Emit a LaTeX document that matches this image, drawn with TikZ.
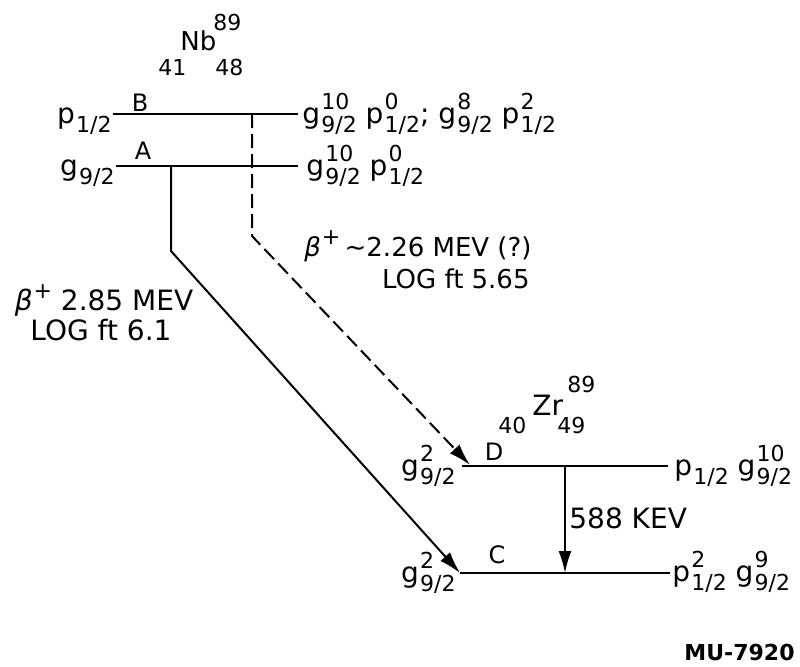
\documentclass[tikz,border=0pt]{standalone}
\usepackage{fontspec}
\setmainfont{DejaVu Sans}
\usetikzlibrary{arrows.meta}

\newcommand\idx{\fontsize{11}{11}\selectfont}
\newcommand\orb[3]{#1\kern0.6pt\rlap{\raisebox{7pt}{\idx #2}}\raisebox{-4.5pt}{\idx #3}}
\newcommand\betaplus{\textit{β}\kern0.5pt\raisebox{6pt}{\idx +}}

\begin{document}
\begin{tikzpicture}[x=0.5pt, y=-0.5pt, >={Latex[length=11pt,width=6.5pt]},
  level/.style={line width=1pt},
  decay/.style={line width=1pt, ->},
  config/.style={inner sep=0pt, font=\fontsize{14}{16}\selectfont},
  small/.style={inner sep=0pt, font=\fontsize{13}{15}\selectfont},
  tag/.style={inner sep=0pt, font=\fontsize{12}{14}\selectfont},
  num/.style={inner sep=0pt, font=\fontsize{11}{13}\selectfont}]
\useasboundingbox (0,0) rectangle (800,666);

% Draw levels
\foreach \n/\xa/\xb/\y in {B/113/298/114, A/116/298/166, D/462/668/466, C/460/670/573} {
  \coordinate (\n-west) at (\xa,\y);
  \coordinate (\n-east) at (\xb,\y);
  \draw [level] (\n-west) -- (\n-east);
}

% Label levels
\foreach \n/\x/\y in {B/140/111, A/143/159, D/494/460, C/497/563}
  \node [tag, anchor=base] (tag-\n) at (\x,\y) {\n};

% Configurations left and right
\node [config, anchor=base east] (conf-B-left) at (112,123) {\orb{p}{}{1/2}};
\node [config, anchor=base east] (conf-A-left) at (115,175) {\orb{g}{}{9/2}};
\node [config, anchor=base east] (conf-D-left) at (456,475) {\orb{g}{2}{9/2}};
\node [config, anchor=base east] (conf-C-left) at (456,582) {\orb{g}{2}{9/2}};
\node [config, anchor=base west] (conf-B-right) at (302,123)
  {\orb{g}{10}{9/2} \orb{p}{0}{1/2}; \orb{g}{8}{9/2} \orb{p}{2}{1/2}};
\node [config, anchor=base west] (conf-A-right) at (306,175) {\orb{g}{10}{9/2} \orb{p}{0}{1/2}};
\node [config, anchor=base west] (conf-D-right) at (674,475) {\orb{p}{}{1/2} \orb{g}{10}{9/2}};
\node [config, anchor=base west] (conf-C-right) at (672,581) {\orb{p}{2}{1/2} \orb{g}{9}{9/2}};

% Nuclei
\node [small, anchor=base west] (nb) at (180,50) {Nb};
\node [num, anchor=base west] (nb-a) at (213,30) {89};
\node [num, anchor=base west] (nb-z) at (158,75) {41};
\node [num, anchor=base west] (nb-n) at (215,75) {48};
\node [config, anchor=base west] (zr) at (532,415) {Zr};
\node [num, anchor=base west] (zr-a) at (567,392) {89};
\node [num, anchor=base west] (zr-z) at (498,433) {40};
\node [num, anchor=base west] (zr-n) at (557,433) {49};

% Beta decays
\coordinate (A-drop) at (171,166);
\coordinate (A-bend) at (171,251);
\draw [decay] (A-drop) -- (A-bend) -- (C-west);

\coordinate (B-drop) at (252,114);
\coordinate (B-bend) at (252,236);
\coordinate (D-in) at (470,465);
\draw [decay, dash pattern=on 7pt off 3pt] (B-drop) -- (B-bend) -- (D-in);

% Gamma transition
\coordinate (gamma-top) at (565,466);
\coordinate (gamma-bot) at (565,573);
\draw [decay] (gamma-top) -- (gamma-bot);
\node [config, anchor=base west] (gamma-E) at (569,528) {588 KEV};

% Decay labels
\node [small, anchor=base east] (beta-B-E) at (532,256) {\betaplus\,∼2.26 MEV (?)};
\node [small, anchor=base east] (beta-B-ft) at (530,288) {LOG ft 5.65};
\node [config, anchor=base] (beta-A-E) at (104,310) {\betaplus\ 2.85 MEV};
\node [config, anchor=base] (beta-A-ft) at (101,340) {LOG ft 6.1};

\node [inner sep=0pt, font=\bfseries\fontsize{11}{13}\selectfont, anchor=base east] (mu) at (795,660) {MU-7920};
\end{tikzpicture}
\end{document}
